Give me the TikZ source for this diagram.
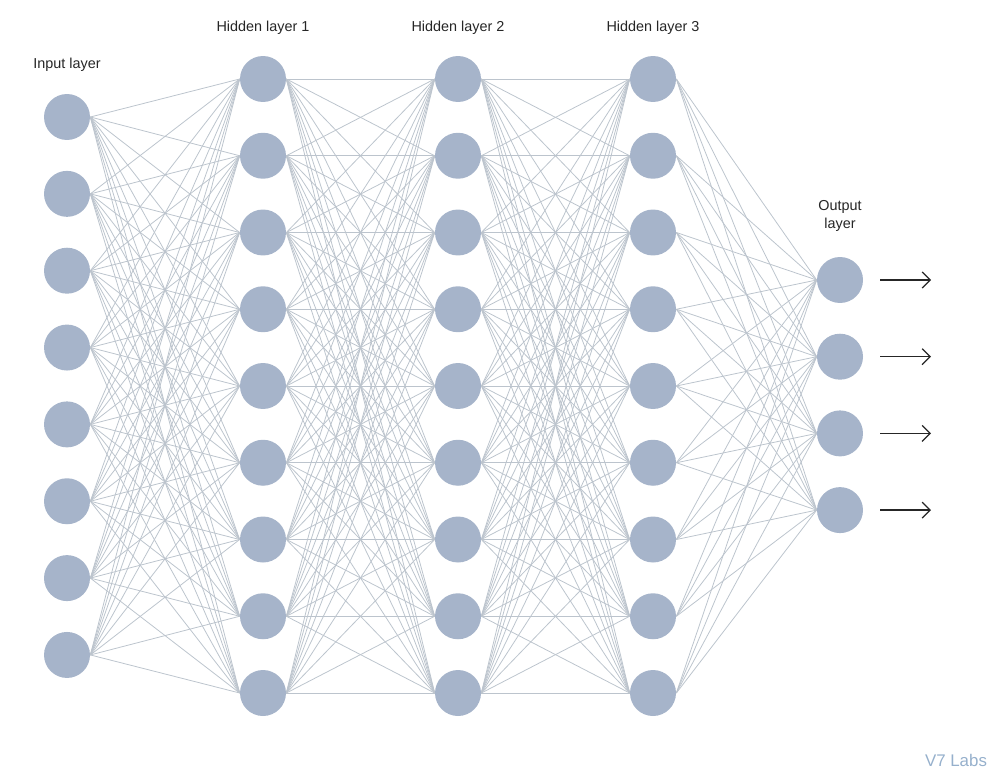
\documentclass[tikz,border=0pt]{standalone}
\usepackage{fontspec}
\setmainfont{Liberation Sans}
\usepackage{tikz}
\usetikzlibrary{arrows.meta}
\definecolor{nodegray}{RGB}{166,180,202}
\definecolor{edgegray}{RGB}{188,196,205}
\definecolor{labblue}{RGB}{150,176,204}

\begin{document}
\begin{tikzpicture}[x=0.02cm,y=-0.02cm,
  neuron/.style={circle,fill=nodegray,minimum size=0.92cm,inner sep=0pt},
  layerlabel/.style={font=\fontsize{8.2}{10}\selectfont,text=black!85,align=center},
  edge/.style={edgegray,line width=0.45pt},
  outarrow/.style={black!85,line width=0.7pt,-{Straight Barb[length=1.6mm,width=3.2mm]}}]

\useasboundingbox (0,0) rectangle (1000,777);

% layers
\foreach \i in {1,...,8}
  \node[neuron] (in-\i) at (67,{117+76.85*(\i-1)}) {};
\foreach \l/\x in {1/263,2/458,3/653}
  \foreach \i in {1,...,9}
    \node[neuron] (h\l-\i) at (\x,{79+76.75*(\i-1)}) {};
\foreach \i in {1,...,4}
  \node[neuron] (out-\i) at (840,{280+76.7*(\i-1)}) {};

% connections
\foreach \i in {1,...,8}
  \foreach \j in {1,...,9}
    \draw[edge] (in-\i.east) -- (h1-\j.west);
\foreach \l/\m in {1/2,2/3}
  \foreach \i in {1,...,9}
    \foreach \j in {1,...,9}
      \draw[edge] (h\l-\i.east) -- (h\m-\j.west);
\foreach \i in {1,...,9}
  \foreach \j in {1,...,4}
    \draw[edge] (h3-\i.east) -- (out-\j.west);

% outputs
\foreach \i in {1,...,4} {
  \coordinate (s\i) at (880,{280+76.7*(\i-1)});
  \coordinate (t\i) at (931,{280+76.7*(\i-1)});
  \draw[outarrow] (s\i) -- (t\i);
}

% labels
\node[layerlabel] (lin) at (67,65) {Input layer};
\node[layerlabel] (lh1) at (263,28) {Hidden layer 1};
\node[layerlabel] (lh2) at (458,28) {Hidden layer 2};
\node[layerlabel] (lh3) at (653,28) {Hidden layer 3};
\node[layerlabel] (lout) at (840,216) {Output\\layer};
\node[text=labblue,font=\fontsize{9.6}{11}\selectfont] (brand) at (956,760) {V7 Labs};
\end{tikzpicture}
\end{document}
